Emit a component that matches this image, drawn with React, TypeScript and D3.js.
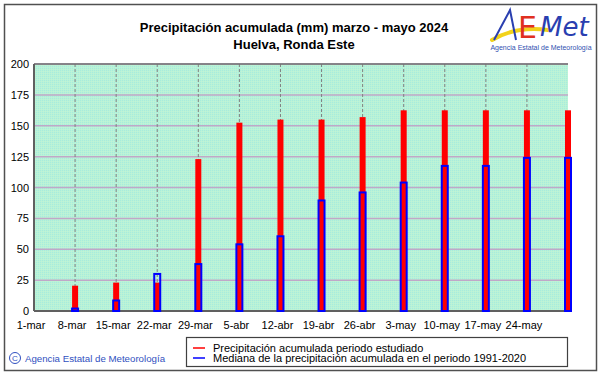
import React from "react";
import * as d3 from "d3";

const dates = ["2024-03-08","2024-03-15","2024-03-22","2024-03-29","2024-04-05","2024-04-12","2024-04-19","2024-04-26","2024-05-03","2024-05-10","2024-05-17","2024-05-24","2024-05-31"];
const studied = [20.5, 23, 23, 123, 152.5, 155, 155, 157, 162.5, 162.5, 162.5, 162.5, 162.5];
const median = [2, 8.5, 30, 38, 54, 60.5, 89.5, 96, 104, 117.5, 117.5, 124, 124];
const tickDates = ["2024-03-01","2024-03-08","2024-03-15","2024-03-22","2024-03-29","2024-04-05","2024-04-12","2024-04-19","2024-04-26","2024-05-03","2024-05-10","2024-05-17","2024-05-24"];
const tickLabels = ["1-mar","8-mar","15-mar","22-mar","29-mar","5-abr","12-abr","19-abr","26-abr","3-may","10-may","17-may","24-may"];
const yTicks = [0, 25, 50, 75, 100, 125, 150, 175, 200];
const title1 = "Precipitación acumulada (mm) marzo - mayo 2024";
const title2 = "Huelva, Ronda Este";
const legendLabels = ["Precipitación acumulada periodo estudiado", "Mediana de la precipitación acumulada en el periodo 1991-2020"];

const F = "'Liberation Sans', Arial, sans-serif";

export default function App() {
  const W = 601, H = 374;
  const left = 34, right = 568, top = 64, bottom = 311;
  const x = d3.scaleUtc().domain([new Date("2024-03-01"), new Date("2024-05-31")]).range([left, right]);
  const y = d3.scaleLinear().domain([0, 200]).range([bottom, top]);
  const pd = (s: string) => new Date(s);

  return (
    <svg width={W} height={H} style={{ position: "absolute", left: 0, top: 0, background: "#fff" }} fontFamily={F}>
      <defs>
        <pattern id="dith" width="2" height="2" patternUnits="userSpaceOnUse">
          <rect width="2" height="2" fill="#b8f2d8" />
          <rect width="1" height="1" fill="#a8ecdc" />
          <rect x="1" y="1" width="1" height="1" fill="#c0f4d4" />
        </pattern>
      </defs>
      <rect x={0} y={0} width={W} height={H} fill="#fff" />
      <rect x={4.5} y={4.5} width={592} height={366} fill="none" stroke="#505050" strokeWidth={1.5} />

      <text x={294} y={32} textAnchor="middle" fontSize={13} fontWeight="bold" fill="#000">{title1}</text>
      <text x={294} y={49} textAnchor="middle" fontSize={13} fontWeight="bold" fill="#000">{title2}</text>

      {/* logo */}
      <g>
        <path d="M492,40 Q515,26 548,30" fill="none" stroke="#f2d21a" strokeWidth={4} strokeLinecap="round" />
        <path d="M494,40 L510,10 L516,40" fill="none" stroke="#2a3fb0" strokeWidth={2} />
        <text x={518} y={38} fontSize={30} fill="#e03020" fontFamily="'DejaVu Sans', sans-serif">E</text>
        <text x={540} y={36} fontSize={26} fontStyle="italic" fill="#2a3fb0" fontFamily="'DejaVu Sans', sans-serif">Met</text>
        <text x={541} y={50} fontSize={7} textAnchor="middle" fill="#3050b0">Agencia Estatal de Meteorología</text>
      </g>

      <rect x={left} y={top} width={right - left} height={bottom - top} fill="url(#dith)" />
      {yTicks.slice(1).map((t) => (
        <line key={"h" + t} x1={left} x2={right} y1={y(t)} y2={y(t)} stroke="#c0a8c8" strokeWidth={1.5} />
      ))}
      {tickDates.slice(1).map((d) => (
        <line key={"v" + d} x1={x(pd(d))} x2={x(pd(d))} y1={top} y2={bottom} stroke="#808080" strokeWidth={1} strokeDasharray="3,2" />
      ))}
      <line x1={left} x2={right} y1={top} y2={top} stroke="#707070" strokeWidth={1.5} />
      <line x1={left} x2={left} y1={top} y2={bottom} stroke="#606060" strokeWidth={2} />
      <line x1={left} x2={right} y1={bottom} y2={bottom} stroke="#606060" strokeWidth={2} />

      {dates.map((d, i) => (
        <rect key={"r" + d} x={x(pd(d)) - 3} y={y(studied[i])} width={6} height={bottom - y(studied[i])} fill="#ff0000" />
      ))}
      {dates.map((d, i) => (
        <rect key={"b" + d} x={x(pd(d)) - 3} y={y(median[i])} width={6} height={bottom - y(median[i])} fill="none" stroke="#0000ff" strokeWidth={2} />
      ))}

      {yTicks.map((t) => (
        <text key={"yl" + t} x={29} y={y(t) + 4} textAnchor="end" fontSize={11} fill="#000">{t}</text>
      ))}
      {tickDates.map((d, i) => (
        <text key={"xl" + d} x={x(pd(d)) - 3} y={329} textAnchor="middle" fontSize={11} fill="#000">{tickLabels[i]}</text>
      ))}

      <rect x={186.5} y={337.5} width={381} height={29} fill="#fff" stroke="#404040" strokeWidth={1.2} />
      <line x1={193} x2={205} y1={348} y2={348} stroke="#ff0000" strokeWidth={1.5} />
      <line x1={193} x2={205} y1={358} y2={358} stroke="#0000ff" strokeWidth={1.5} />
      <text x={213} y={351.5} fontSize={11} fill="#000">{legendLabels[0]}</text>
      <text x={213} y={362} fontSize={11} fill="#000">{legendLabels[1]}</text>

      <circle cx={15} cy={358} r={5.5} fill="none" stroke="#3050c0" strokeWidth={1} />
      <text x={15} y={361} textAnchor="middle" fontSize={8} fill="#3050c0">C</text>
      <text x={25} y={362} fontSize={9.7} fill="#3050c0">Agencia Estatal de Meteorología</text>
    </svg>
  );
}
